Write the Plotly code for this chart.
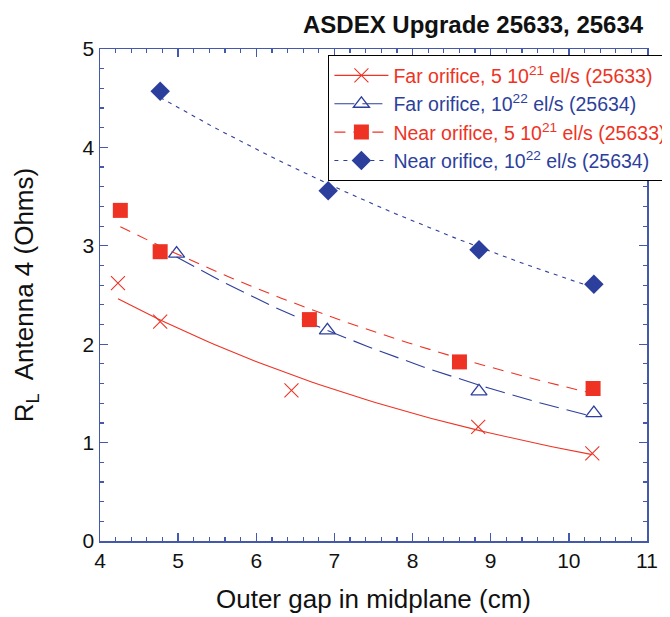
import numpy as np
import plotly.graph_objects as go

# ---- data ----
far_5e21_x = [4.23, 4.77, 6.45, 8.84, 10.30]
far_5e21_y = [2.62, 2.23, 1.53, 1.16, 0.89]

far_1e22_x = [4.98, 6.91, 8.85, 10.32]
far_1e22_y = [2.92, 2.14, 1.52, 1.30]

near_5e21_x = [4.26, 4.77, 6.68, 8.60, 10.31]
near_5e21_y = [3.36, 2.94, 2.25, 1.82, 1.55]

near_1e22_x = [4.77, 6.92, 8.85, 10.32]
near_1e22_y = [4.57, 3.56, 2.96, 2.61]

names = [
    "Far orifice, 5 10<sup>21</sup> el/s (25633)",
    "Far orifice, 10<sup>22</sup> el/s (25634)",
    "Near orifice, 5 10<sup>21</sup> el/s (25633)",
    "Near orifice, 10<sup>22</sup> el/s (25634)",
]

RED = "#EE3324"
BLUE = "#2D3F9C"
AXC = "#4458AC"
FONT = "Liberation Sans, Arial, Helvetica, sans-serif"


def exp_fit(x, y, n=60):
    x = np.asarray(x, float)
    y = np.asarray(y, float)
    b, lna = np.polyfit(x, np.log(y), 1)
    xs = np.linspace(x.min(), x.max(), n)
    return xs, np.exp(lna) * np.exp(b * xs)


series = [
    (far_5e21_x, far_5e21_y, RED, "solid", dict(symbol="x-thin-open", size=14, line=dict(width=1.1, color=RED), color=RED)),
    (far_1e22_x, far_1e22_y, BLUE, "20px,8px", dict(symbol="triangle-up-open", size=14, line=dict(width=1.3, color=BLUE), color=BLUE)),
    (near_5e21_x, near_5e21_y, RED, "11px,8px", dict(symbol="square", size=15, color=RED, line=dict(width=0))),
    (near_1e22_x, near_1e22_y, BLUE, "4px,5px", dict(symbol="diamond", size=15, color=BLUE, line=dict(width=0))),
]

fig = go.Figure()
for (x, y, col, dash, mk), nm in zip(series, names):
    xs, ys = exp_fit(x, y)
    fig.add_trace(go.Scatter(
        x=xs, y=ys, mode="lines", line=dict(color=col, width=1.1, dash=dash),
        legendgroup=nm, showlegend=False, hoverinfo="skip"))
    fig.add_trace(go.Scatter(
        x=x, y=y, mode="markers", marker=mk, legendgroup=nm,
        name=f'<span style="color:{col}">{nm}</span>',
        showlegend=False, hoverinfo="skip"))
    # legend entry combining line + marker
    fig.add_trace(go.Scatter(
        x=[None], y=[None], mode="lines+markers",
        line=dict(color=col, width=1.1, dash=dash), marker=mk,
        name=f'<span style="color:{col}">{nm}</span>', legendgroup=nm,
        hoverinfo="skip"))

axis_common = dict(
    showline=True, linecolor=AXC, linewidth=1.5, mirror="ticks",
    ticks="inside", ticklen=8, tickwidth=1.3, tickcolor=AXC,
    showgrid=False, zeroline=False,
    tickfont=dict(family=FONT, size=21, color="#111111"),
)

fig.update_xaxes(
    range=[4, 11], dtick=1, tick0=4,
    minor=dict(ticks="inside", ticklen=4, dtick=0.2, tickcolor=AXC, tickwidth=1.2, showgrid=False),
    title=dict(text="Outer gap in midplane (cm)", font=dict(family=FONT, size=26, color="#111111"), standoff=19),
    **axis_common)
fig.update_yaxes(
    range=[0, 5], dtick=1, tick0=0,
    minor=dict(ticks="inside", ticklen=4, dtick=0.2, tickcolor=AXC, tickwidth=1.2, showgrid=False),
    title=dict(text="R<sub>L</sub>  Antenna 4 (Ohms)", font=dict(family=FONT, size=26, color="#111111"), standoff=41),
    **axis_common)

fig.update_layout(
    width=670, height=617,
    margin=dict(l=92, r=31, t=41, b=84, autoexpand=False),
    paper_bgcolor="white", plot_bgcolor="white",
    font=dict(family=FONT),
    hovermode=False,
    title=dict(text="<b>ASDEX Upgrade 25633, 25634</b>", x=0.948, xanchor="right", y=0.9724, yanchor="middle",
               font=dict(family=FONT, size=24, color="#111111")),
    legend=dict(x=0.417, y=0.988, xanchor="left", yanchor="top",
                bgcolor="white", bordercolor="black", borderwidth=1.3,
                font=dict(family=FONT, size=19.5), itemwidth=54, tracegroupgap=0),
)

fig.write_html("out.html", config={"staticPlot": True})
